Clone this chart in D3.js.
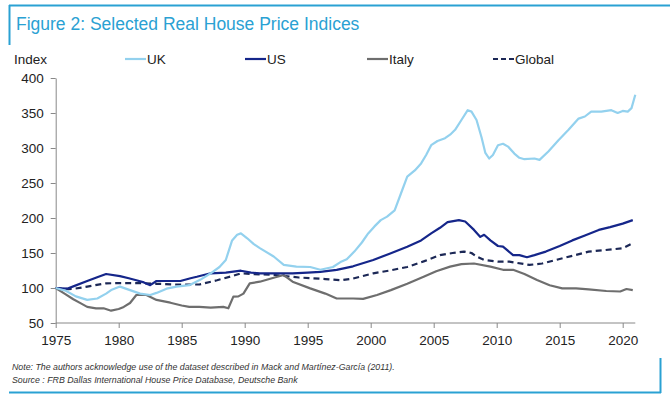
<!DOCTYPE html>
<html><head><meta charset="utf-8">
<script src="https://cdn.jsdelivr.net/npm/d3@7"></script>
<style>body{margin:0;background:#fff}svg{display:block;font-family:"Liberation Sans",Arial,sans-serif}</style>
</head><body><svg id="c" width="670" height="401"></svg>
<script>
const seriesNames = ["UK","US","Italy","Global"];
const yTicks = [50,100,150,200,250,300,350,400];
const xTicks = [1975,1980,1985,1990,1995,2000,2005,2010,2015,2020];
const ukData = [[1975.0,100],[1975.8,96],[1976.6,88],[1977.5,83],[1978.3,85],[1979.0,92],[1979.4,97],[1980.1,102],[1980.9,97],[1981.7,92],[1982.5,90],[1983.0,93],[1983.8,99],[1984.6,102],[1985.6,104],[1986.5,112],[1987.3,121],[1988.0,130],[1988.5,140],[1989.0,168],[1989.4,176],[1989.7,178],[1990.2,171],[1990.7,163],[1991.2,157],[1992.3,145],[1993.1,133],[1994.1,130.5],[1995.2,130],[1996.0,126],[1997.0,130],[1997.6,137],[1998.1,141],[1998.7,152],[1999.3,165],[1999.8,178],[2000.3,188],[2000.8,197],[2001.3,202],[2001.9,211],[2002.4,235],[2002.9,259],[2003.5,268],[2004.0,278],[2004.4,290],[2004.8,304],[2005.3,310],[2005.9,314],[2006.3,319],[2006.7,326],[2007.2,340],[2007.7,354],[2008.0,352],[2008.4,340],[2008.8,315],[2009.1,293],[2009.4,285],[2009.7,290],[2010.1,304],[2010.5,306],[2010.9,302],[2011.4,292],[2011.8,286],[2012.2,284],[2013.0,285],[2013.4,283],[2014.1,295],[2014.9,311],[2015.7,326],[2016.5,342],[2017.0,345],[2017.5,352],[2018.3,352],[2019.1,354],[2019.6,350],[2020.0,353],[2020.4,352],[2020.7,357],[2021.0,376]];
const usData = [[1975.0,100],[1975.9,99],[1976.5,103],[1977.5,110],[1978.4,116],[1979.0,120],[1980.1,117],[1980.8,114],[1981.4,111],[1982.0,108],[1982.5,104],[1983.0,110],[1984.0,110],[1984.9,110],[1985.7,114],[1986.2,116],[1987.3,121],[1988.5,122],[1989.7,124.7],[1990.5,122],[1991.2,121],[1992.5,121],[1993.8,121],[1995.0,122],[1996.0,123],[1997.3,126],[1998.6,131],[2000.2,140],[2001.5,149],[2002.9,159],[2004.0,168],[2004.8,178],[2005.5,186],[2006.1,194],[2007.0,197],[2007.5,195],[2008.2,183],[2008.7,173],[2009.0,176],[2009.5,168],[2010.1,160],[2010.5,159],[2011.3,147],[2011.8,147],[2012.4,144],[2013.0,147],[2013.9,152],[2015.0,160],[2016.0,168],[2017.0,175],[2018.1,183],[2019.0,187],[2020.0,192],[2020.8,197]];
const italyData = [[1975.0,100],[1975.7,92],[1976.4,84],[1977.0,78],[1977.5,73],[1978.2,71],[1978.8,71],[1979.4,67.6],[1980.0,70],[1980.4,73],[1980.9,78.6],[1981.4,90],[1982.2,90],[1983.0,83],[1984.1,79],[1985.0,75],[1985.6,73],[1986.4,73],[1987.3,72],[1988.3,73],[1988.7,71],[1989.1,87.6],[1989.5,88],[1989.9,92],[1990.4,106.7],[1991.2,109],[1992.3,114.7],[1993.1,118.5],[1993.8,109],[1995.2,99.5],[1996.4,92],[1997.3,85],[1998.6,85],[1999.4,84.5],[2000.5,90],[2001.6,97],[2002.9,106],[2004.2,116],[2005.2,124],[2006.3,130.5],[2007.2,134],[2008.2,135],[2009.5,130.5],[2010.5,126],[2011.3,126],[2012.2,120],[2013.2,111.4],[2014.2,104],[2015.2,99.5],[2016.3,99.5],[2017.3,98],[2018.7,95.7],[2019.8,95],[2020.3,98.6],[2020.8,97]];
const globalData = [[1975.0,100],[1976.0,98.5],[1976.5,99],[1977.5,102],[1979.0,106.7],[1980.0,107],[1981.6,107],[1983.0,106],[1984.5,105],[1986.4,105],[1987.8,111],[1989.0,117],[1989.7,121],[1990.5,120],[1992.4,118.6],[1994.3,115],[1996.4,112.8],[1997.6,111],[1998.6,113.5],[2000.2,121],[2001.5,125],[2002.9,130],[2004.2,138],[2005.5,147],[2006.5,150],[2007.4,152],[2008.0,150],[2008.4,145],[2009.0,140],[2010.1,137.6],[2011.0,137.6],[2012.6,133],[2013.6,135],[2014.7,140],[2016.0,146],[2017.3,152],[2018.5,154],[2020.0,156.7],[2020.8,164]];

const svg = d3.select("#c");
const blue = "#2aa1d3";
// frame
svg.append("line").attr("x1",9).attr("x2",670).attr("y1",5.5).attr("y2",5.5).attr("stroke",blue).attr("stroke-width",2);
svg.append("line").attr("x1",9.5).attr("x2",9.5).attr("y1",5).attr("y2",45).attr("stroke",blue).attr("stroke-width",2);
svg.append("line").attr("x1",9).attr("x2",661).attr("y1",392.5).attr("y2",392.5).attr("stroke",blue).attr("stroke-width",2);
svg.append("line").attr("x1",660.5).attr("x2",660.5).attr("y1",358).attr("y2",393).attr("stroke",blue).attr("stroke-width",2);
svg.append("text").attr("x",16).attr("y",30).attr("fill",blue).attr("font-size",17.5).text("Figure 2: Selected Real House Price Indices");

const x = d3.scaleLinear().domain([1975,2021]).range([55.7,635.3]);
const y = d3.scaleLinear().domain([50,400]).range([323,78]);

const gx = svg.append("g").attr("transform","translate(0,323)")
  .call(d3.axisBottom(x).tickValues(xTicks).tickFormat(d3.format("d")).tickSize(5).tickSizeOuter(0));
const gy = svg.append("g").attr("transform","translate(55.7,0)")
  .call(d3.axisLeft(y).tickValues(yTicks).tickSize(5).tickSizeOuter(0));
[gx,gy].forEach(g=>{
  g.selectAll("path,line").attr("stroke","#888").attr("stroke-width",1);
  g.selectAll("text").attr("fill","#222").attr("font-size",13.5).attr("font-family","Liberation Sans, Arial, sans-serif");
});
gx.selectAll("text").attr("dy","1.05em");
gy.selectAll("text").attr("dx","-4").attr("dy","0.35em");
gx.select(".domain").attr("d","M55.7,0H635.3");

const styles = {
  UK:{data:ukData,color:"#93d1ee",dash:null},
  US:{data:usData,color:"#15268a",dash:null},
  Italy:{data:italyData,color:"#6e6e6e",dash:null},
  Global:{data:globalData,color:"#1c2856",dash:"6,4"}
};
const line = d3.line().x(d=>x(d[0])).y(d=>y(d[1]));
["Global","Italy","US","UK"].forEach(n=>{
  const s = styles[n];
  svg.append("path").datum(s.data).attr("d",line).attr("fill","none")
    .attr("stroke",s.color).attr("stroke-width",2.2).attr("stroke-linejoin","round")
    .attr("stroke-dasharray",s.dash);
});

// legend
svg.append("text").attr("x",14).attr("y",64).attr("font-size",13.5).attr("fill","#222").text("Index");
const lx = [125,245,367,493];
seriesNames.forEach((n,i)=>{
  const s = styles[n];
  svg.append("line").attr("x1",lx[i]).attr("x2",lx[i]+21).attr("y1",59).attr("y2",59)
    .attr("stroke",s.color).attr("stroke-width",2.2).attr("stroke-dasharray",s.dash?"5,3":null);
  svg.append("text").attr("x",lx[i]+22).attr("y",64).attr("font-size",13.5).attr("fill","#222").text(n);
});

svg.append("text").attr("x",12).attr("y",370).attr("font-size",8.8).attr("font-style","italic").attr("fill","#333")
  .text("Note: The authors acknowledge use of the dataset described in Mack and Martínez-García (2011).");
svg.append("text").attr("x",12).attr("y",383).attr("font-size",8.8).attr("font-style","italic").attr("fill","#333")
  .text("Source : FRB Dallas International House Price Database, Deutsche Bank");
</script></body></html>
